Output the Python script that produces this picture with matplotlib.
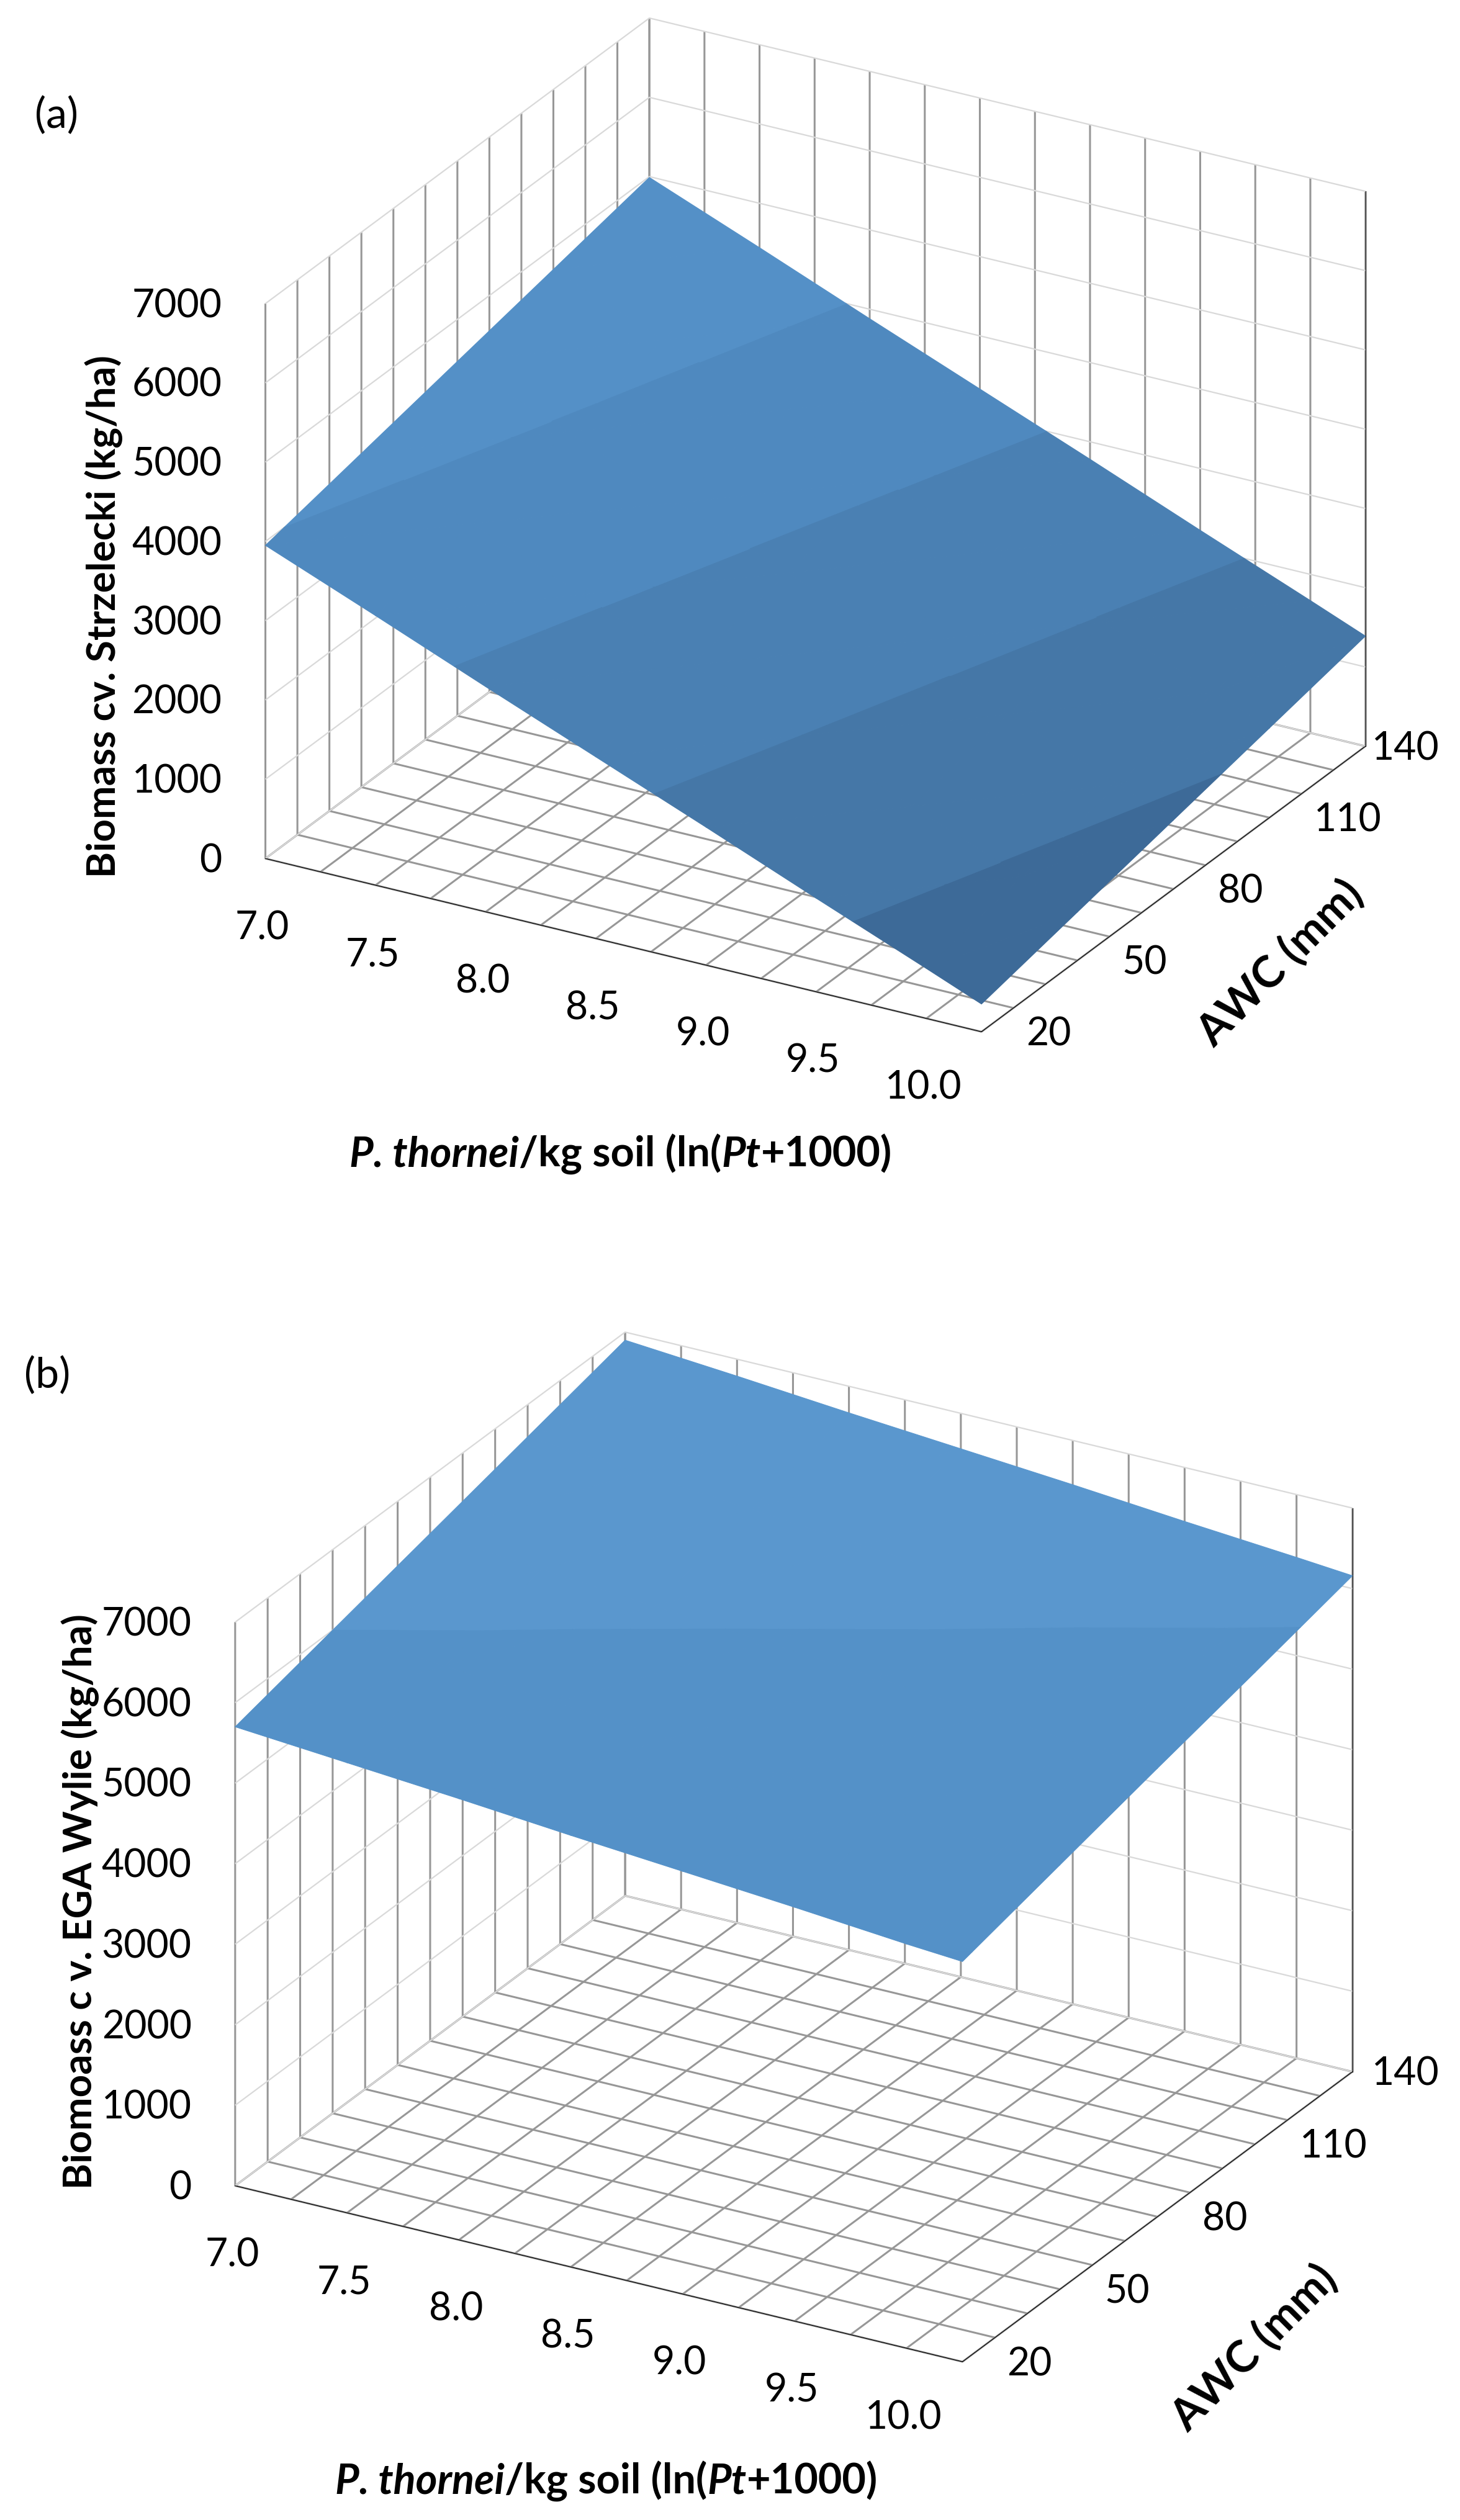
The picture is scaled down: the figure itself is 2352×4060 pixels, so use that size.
import numpy as np
import matplotlib
matplotlib.use("Agg")
import matplotlib.pyplot as plt
from mpl_toolkits.mplot3d import proj3d
from mpl_toolkits.mplot3d.art3d import Poly3DCollection
from matplotlib.offsetbox import TextArea, HPacker, AnnotationBbox

W, H = 2352, 4060
FS = 45
plt.rcParams['font.family'] = ['Lato', 'DejaVu Sans']
if 'axes3d.automargin' in plt.rcParams:
    plt.rcParams['axes3d.automargin'] = False

# category grid of the Excel surface chart
pt_grid = [7.0, 7.25, 7.5, 7.75, 8.0, 8.25, 8.5, 8.75, 9.0, 9.25, 9.5, 9.75, 10.0, 10.25]
awc_grid = [20, 30, 40, 50, 60, 70, 80, 90, 100, 110, 120, 130, 140]
z_ticks = [0, 1000, 2000, 3000, 4000, 5000, 6000, 7000]
pt_labels = [7.0, 7.5, 8.0, 8.5, 9.0, 9.5, 10.0]
awc_labels = [20, 50, 80, 110, 140]

# surface heights (rows = AWC, cols = Pt)
pt_surf = [7.0, 7.5, 8.0, 8.5, 9.0, 9.5, 10.0, 10.25]
awc_surf = [20, 50, 80, 110, 140]
biomass_strzelecki = [
    [3950, 3400, 2840, 2290, 1740, 1180, 630, 350],
    [4210, 3660, 3100, 2550, 2000, 1440, 890, 610],
    [4470, 3920, 3360, 2810, 2260, 1700, 1150, 870],
    [4730, 4180, 3620, 3070, 2520, 1960, 1410, 1130],
    [4990, 4440, 3880, 3330, 2780, 2220, 1670, 1390],
]
biomass_wylie = [
    [5700, 5590, 5480, 5360, 5250, 5140, 5020, 4970],
    [6000, 5890, 5780, 5660, 5550, 5440, 5320, 5270],
    [6300, 6190, 6070, 5960, 5850, 5730, 5620, 5570],
    [6600, 6490, 6370, 6260, 6150, 6030, 5920, 5860],
    [6900, 6790, 6670, 6560, 6450, 6330, 6220, 6160],
]

# one shade per 1000 kg/ha band, like Excel's surface bands
band_colors = ['#3d6a98', '#4577a7', '#4a80b3', '#4f89bf', '#5490c7', '#5491c8', '#5a97ce']

XY_GRID = '#979797'
Z_GRID = '#d9d9d9'

fig = plt.figure(figsize=(W / 100, H / 100), dpi=100)


def clip(pts, level, keep_above):
    out = []
    for i in range(len(pts)):
        p, q = pts[i], pts[(i + 1) % len(pts)]
        pin = p[2] >= level if keep_above else p[2] <= level
        qin = q[2] >= level if keep_above else q[2] <= level
        if pin:
            out.append(p)
        if pin != qin:
            t = (level - p[2]) / (q[2] - p[2])
            out.append(tuple(p[k] + t * (q[k] - p[k]) for k in range(3)))
    return out


def band_polys(zgrid):
    polys, cols = [], []
    for j in range(len(awc_surf) - 1):
        for i in range(len(pt_surf) - 1):
            a = (pt_surf[i], awc_surf[j], zgrid[j][i])
            b = (pt_surf[i + 1], awc_surf[j], zgrid[j][i + 1])
            c = (pt_surf[i + 1], awc_surf[j + 1], zgrid[j + 1][i + 1])
            d = (pt_surf[i], awc_surf[j + 1], zgrid[j + 1][i])
            for tri in ([a, b, c], [a, c, d]):
                for k, col in enumerate(band_colors):
                    p = clip(tri, z_ticks[k], True)
                    if len(p) >= 3:
                        p = clip(p, z_ticks[k + 1], False)
                    if len(p) >= 3:
                        polys.append(p)
                        cols.append(col)
    return polys, cols


def corners_px(ax):
    fig.canvas.draw()
    M = ax.get_proj()
    xs = np.array([pt_grid[0], pt_grid[-1], pt_grid[-1], pt_grid[0], pt_grid[0]], float)
    ys = np.array([awc_grid[0], awc_grid[0], awc_grid[-1], awc_grid[0], awc_grid[-1]], float)
    zs = np.array([0, 0, 0, z_ticks[-1], z_ticks[-1]], float)
    px, py, _ = proj3d.proj_transform(xs, ys, zs, M)
    return ax.transData.transform(np.column_stack([px, py]))


def fit_box(ax, target):
    # scale/shift the axes so the box corners land where they are in the reference
    T = np.array([(x, H - y) for x, y in target], float)
    for _ in range(3):
        D = corners_px(ax)
        Dm, Tm = D.mean(0), T.mean(0)
        k = ((D - Dm) * (T - Tm)).sum() / ((D - Dm) ** 2).sum()
        c = Tm - k * Dm
        bb = ax.get_position().transformed(fig.transFigure)
        ax.set_position([(k * bb.x0 + c[0]) / W, (k * bb.y0 + c[1]) / H,
                         k * bb.width / W, k * bb.height / H])


def to_px(ax, x, y, z):
    px, py, _ = proj3d.proj_transform(np.array([x], float), np.array([y], float),
                                      np.array([z], float), ax.get_proj())
    return ax.transData.transform((px[0], py[0]))


def panel(zgrid, target, letter, letter_xy, zlabel, zlabel_xy, xlabel_xy, awc_xy):
    ax = fig.add_axes([0.1, 0.1, 0.5, 0.3], projection='3d')
    ax.set_proj_type('ortho')
    ax.view_init(elev=25.1, azim=-60.3)
    ax.set_box_aspect((1.485, 1.396, 1.104))
    ax.set_xlim(pt_grid[0], pt_grid[-1])
    ax.set_ylim(awc_grid[0], awc_grid[-1])
    ax.set_zlim(z_ticks[0], z_ticks[-1])
    ax.set_xticks(pt_grid)
    ax.set_yticks(awc_grid)
    ax.set_zticks(z_ticks)
    ax.set_xticklabels([''] * len(pt_grid))
    ax.set_yticklabels([''] * len(awc_grid))
    ax.set_zticklabels([''] * len(z_ticks))
    ax.set_facecolor('none')
    for axis, gcol, glw in ((ax.xaxis, XY_GRID, 2.2), (ax.yaxis, XY_GRID, 2.2), (ax.zaxis, Z_GRID, 1.6)):
        axis.set_pane_color((1, 1, 1, 1))
        axis._axinfo['grid'].update({'color': gcol, 'linewidth': glw, 'linestyle': '-'})
        axis._axinfo['axisline'].update({'color': XY_GRID, 'linewidth': 2.2})
        axis._axinfo['tick']['inward_factor'] = 0
        axis._axinfo['tick']['outward_factor'] = 0
    ax.tick_params(axis='both', colors=(0, 0, 0, 0))
    ax.grid(True)

    polys, cols = band_polys(zgrid)
    ax.add_collection3d(Poly3DCollection(polys, facecolors=cols, edgecolors=cols, linewidths=0.8))

    fit_box(ax, target)
    fig.canvas.draw()

    for z in z_ticks:
        x, y = to_px(ax, pt_grid[0], awc_grid[0], z)
        fig.text((x - 70) / W, (y - 22) / H, str(z), ha='right', va='baseline', fontsize=FS)
    for p in pt_labels:
        x, y = to_px(ax, p, awc_grid[0], 0)
        fig.text((x - 5) / W, (y - 130) / H, f'{p:.1f}', ha='center', va='baseline', fontsize=FS)
    for a in awc_labels:
        x, y = to_px(ax, pt_grid[-1], a, 0)
        fig.text(min(x + 72, W - 142) / W, (y - 22) / H, str(a), ha='left', va='baseline', fontsize=FS)

    fig.text(letter_xy[0] / W, 1 - letter_xy[1] / H, letter, ha='center', va='center', fontsize=FS + 4)
    fig.text(zlabel_xy[0] / W, 1 - zlabel_xy[1] / H, zlabel, rotation=90, ha='center', va='center',
             fontsize=FS + 1, fontweight='bold')
    fig.text(awc_xy[0] / W, 1 - awc_xy[1] / H, 'AWC (mm)', rotation=45, ha='center', va='center',
             fontsize=FS + 6, fontweight='bold')

    bold = dict(fontsize=FS + 3, fontweight='bold', color='black')
    parts = [TextArea('P. thornei', textprops=dict(bold, style='italic')),
             TextArea('/kg soil (ln(', textprops=bold),
             TextArea('Pt', textprops=dict(bold, style='italic')),
             TextArea('+1000)', textprops=bold)]
    pack = HPacker(children=parts, align='baseline', pad=0, sep=0)
    fig.add_artist(AnnotationBbox(pack, (xlabel_xy[0] / W, 1 - xlabel_xy[1] / H),
                                  xycoords='figure fraction', frameon=False, box_alignment=(0.5, 0.5)))
    return ax


panel(biomass_strzelecki,
      [(424, 1383), (1585, 1664), (2203, 1191), (424, 490), (1046, 38)],
      '(a)', (91, 187), 'Biomass cv. Strzelecki (kg/ha)', (167, 993), (1000, 1860), (2062, 1552))
panel(biomass_wylie,
      [(379, 3520), (1548, 3803), (2179, 3346), (379, 2607), (1009, 2148)],
      '(b)', (76, 2217), 'Biomoass c v. EGA Wylie (kg/ha)', (129, 3064), (977, 3998), (2020, 3783))

fig.savefig('out.png', dpi=100, facecolor='white')
